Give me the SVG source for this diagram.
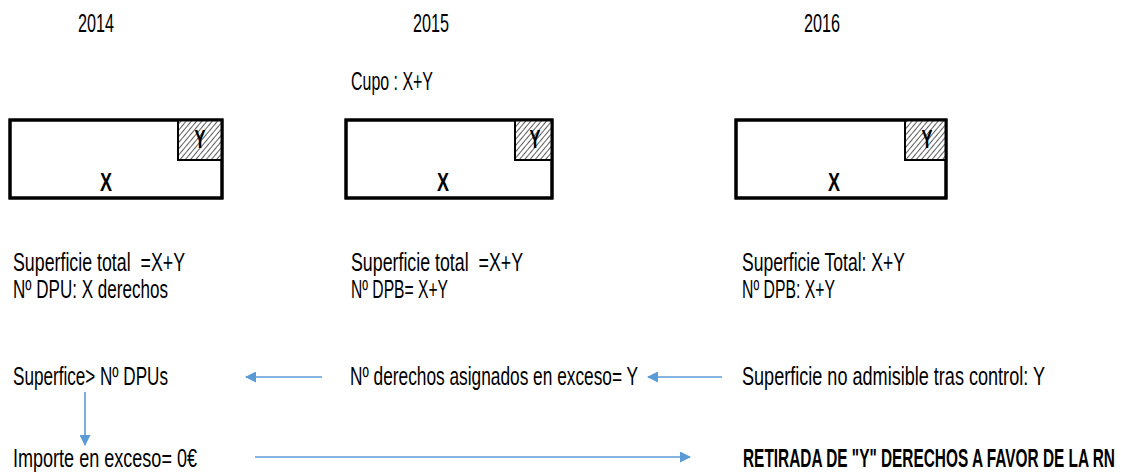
<svg xmlns="http://www.w3.org/2000/svg" width="1121" height="475" viewBox="0 0 1121 475">
<style>
text{font-family:"Liberation Sans",Arial,sans-serif;font-size:25px;fill:#000}
.b{font-weight:bold}
.box{fill:#fff;stroke:#000;stroke-width:3}
.ybox{fill:url(#hatch);stroke:#000;stroke-width:2}
.conn{stroke:#5B9BD5;stroke-width:1.6;fill:none;marker-end:url(#ah)}
</style>
<defs>
<pattern id="hatch" patternUnits="userSpaceOnUse" width="4" height="4" patternTransform="rotate(40)">
<rect width="4" height="4" fill="#fff"/>
<line x1="0" y1="0" x2="0" y2="4" stroke="#333" stroke-width="1.6"/>
</pattern>
<marker id="ah" markerWidth="11" markerHeight="11" refX="10" refY="5.5" orient="auto" markerUnits="userSpaceOnUse">
<path d="M0,0 L11,5.5 L0,11 Z" fill="#5B9BD5"/>
</marker>
</defs>
<g id="years">
<text x="78" y="32" textLength="36" lengthAdjust="spacingAndGlyphs">2014</text>
<text x="413" y="32" textLength="36" lengthAdjust="spacingAndGlyphs">2015</text>
<text x="804" y="32" textLength="36" lengthAdjust="spacingAndGlyphs">2016</text>
</g>
<g id="cupo"><text x="351" y="90" textLength="82" lengthAdjust="spacingAndGlyphs">Cupo : X+Y</text></g>
<g id="box2014">
<rect class="box" x="10" y="120" width="212" height="78"/>
<rect class="ybox" x="178" y="120" width="44" height="40"/>
<rect x="10" y="120" width="212" height="78" fill="none" stroke="#000" stroke-width="3"/>
<text class="b" x="200" y="148" text-anchor="middle" textLength="11" lengthAdjust="spacingAndGlyphs">Y</text>
<text class="b" x="106" y="191" text-anchor="middle" textLength="12" lengthAdjust="spacingAndGlyphs">X</text>
</g>
<g id="box2015">
<rect class="box" x="346" y="120" width="206" height="78"/>
<rect class="ybox" x="515" y="120" width="37" height="40"/>
<rect x="346" y="120" width="206" height="78" fill="none" stroke="#000" stroke-width="3"/>
<text class="b" x="535" y="148" text-anchor="middle" textLength="11" lengthAdjust="spacingAndGlyphs">Y</text>
<text class="b" x="443" y="191" text-anchor="middle" textLength="12" lengthAdjust="spacingAndGlyphs">X</text>
</g>
<g id="box2016">
<rect class="box" x="736" y="120" width="210" height="78"/>
<rect class="ybox" x="905" y="120" width="41" height="40"/>
<rect x="736" y="120" width="210" height="78" fill="none" stroke="#000" stroke-width="3"/>
<text class="b" x="927" y="148" text-anchor="middle" textLength="11" lengthAdjust="spacingAndGlyphs">Y</text>
<text class="b" x="834" y="191" text-anchor="middle" textLength="12" lengthAdjust="spacingAndGlyphs">X</text>
</g>
<g id="info2014">
<text x="13" y="271" textLength="172" lengthAdjust="spacingAndGlyphs" xml:space="preserve">Superficie total  =X+Y</text>
<text x="13" y="298" textLength="155" lengthAdjust="spacingAndGlyphs">Nº DPU: X derechos</text>
</g>
<g id="info2015">
<text x="351" y="271" textLength="172" lengthAdjust="spacingAndGlyphs" xml:space="preserve">Superficie total  =X+Y</text>
<text x="351" y="298" textLength="97" lengthAdjust="spacingAndGlyphs">Nº DPB= X+Y</text>
</g>
<g id="info2016">
<text x="742" y="271" textLength="163" lengthAdjust="spacingAndGlyphs">Superficie Total: X+Y</text>
<text x="742" y="298" textLength="93" lengthAdjust="spacingAndGlyphs">Nº DPB: X+Y</text>
</g>
<g id="n-superfice"><text x="13" y="385" textLength="155" lengthAdjust="spacingAndGlyphs">Superfice&gt; Nº DPUs</text></g>
<g id="n-asignados"><text x="350" y="385" textLength="288" lengthAdjust="spacingAndGlyphs">Nº derechos asignados en exceso= Y</text></g>
<g id="n-noadmisible"><text transform="translate(742,385) scale(0.72,1)" x="0" y="0" textLength="420.8" lengthAdjust="spacingAndGlyphs">Superficie no admisible tras control: Y</text></g>
<g id="n-importe"><text x="13" y="467" textLength="184" lengthAdjust="spacingAndGlyphs">Importe en exceso= 0€</text></g>
<g id="n-retirada"><text class="b" transform="translate(743,467) scale(0.609,1)" x="0" y="0" textLength="610.8" lengthAdjust="spacingAndGlyphs">RETIRADA DE "Y" DERECHOS A FAVOR DE LA RN</text></g>
<g id="connectors">
<line class="conn" x1="322" y1="377" x2="246" y2="377"/>
<line class="conn" x1="722" y1="377" x2="648" y2="377"/>
<line class="conn" x1="85" y1="392" x2="85" y2="445"/>
<line class="conn" x1="255" y1="457" x2="690" y2="457"/>
</g>
</svg>
